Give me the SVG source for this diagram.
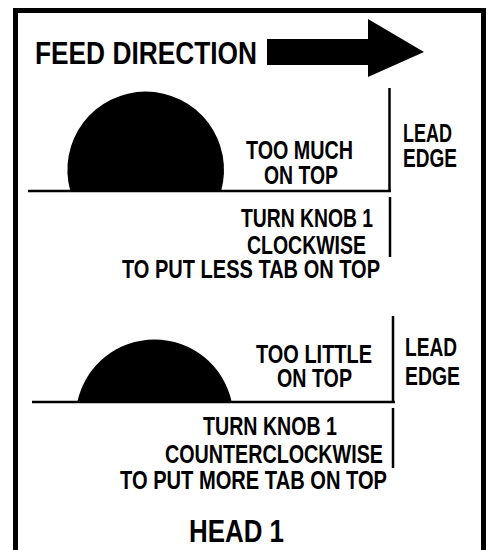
<svg xmlns="http://www.w3.org/2000/svg" width="488" height="550" viewBox="0 0 488 550">
<style>
text{font-family:"Liberation Sans",Arial,sans-serif;font-weight:bold;fill:#000}
.t{font-size:26px}
.big{font-size:31px}
.ln{stroke:#000;stroke-width:2.5;fill:none}
.blk{fill:#000}
</style>
<rect width="488" height="550" fill="#fff"/>
<rect x="15.5" y="10.5" width="468" height="600" fill="none" stroke="#000" stroke-width="5"/>
<g id="feed-direction">
<text class="big" x="35" y="64" textLength="222" lengthAdjust="spacingAndGlyphs">FEED DIRECTION</text>
<path class="blk" d="M267 39H368V19L424 52L368 77V65H267Z"/>
</g>
<g id="too-much">
<path class="blk" d="M70.3 191A78.3 78.3 0 1 1 221.1 191Z"/>
<text class="t" x="246" y="159" textLength="107" lengthAdjust="spacingAndGlyphs">TOO MUCH</text>
<text class="t" x="264" y="184" textLength="74" lengthAdjust="spacingAndGlyphs">ON TOP</text>
<text class="t" x="403" y="142" textLength="49" lengthAdjust="spacingAndGlyphs">LEAD</text>
<text class="t" x="403" y="167" textLength="54" lengthAdjust="spacingAndGlyphs">EDGE</text>
</g>
<g id="turn-clockwise">
<text class="t" x="241" y="227" textLength="132" lengthAdjust="spacingAndGlyphs">TURN KNOB 1</text>
<text class="t" x="247" y="254" textLength="119" lengthAdjust="spacingAndGlyphs">CLOCKWISE</text>
<text class="t" x="122" y="278" textLength="258" lengthAdjust="spacingAndGlyphs">TO PUT LESS TAB ON TOP</text>
</g>
<g id="too-little">
<path class="blk" d="M77.3 402A78.9 78.9 0 0 1 231.7 402Z"/>
<text class="t" x="256" y="363" textLength="116" lengthAdjust="spacingAndGlyphs">TOO LITTLE</text>
<text class="t" x="277" y="387" textLength="75" lengthAdjust="spacingAndGlyphs">ON TOP</text>
<text class="t" x="405" y="356" textLength="52" lengthAdjust="spacingAndGlyphs">LEAD</text>
<text class="t" x="405" y="385" textLength="55" lengthAdjust="spacingAndGlyphs">EDGE</text>
</g>
<g id="turn-counterclockwise">
<text class="t" x="203" y="435" textLength="134" lengthAdjust="spacingAndGlyphs">TURN KNOB 1</text>
<text class="t" x="165" y="463" textLength="218" lengthAdjust="spacingAndGlyphs">COUNTERCLOCKWISE</text>
<text class="t" x="120" y="489" textLength="267" lengthAdjust="spacingAndGlyphs">TO PUT MORE TAB ON TOP</text>
</g>
<g id="head">
<text class="big" x="189" y="542" textLength="95" lengthAdjust="spacingAndGlyphs">HEAD 1</text>
</g>
<g id="connectors">
<path class="ln" d="M28 191H391M389.5 88V192"/>
<path class="ln" d="M390 197V257"/>
<path class="ln" d="M32 402H395M393 316V403"/>
<path class="ln" d="M393 408V468"/>
</g>
</svg>
